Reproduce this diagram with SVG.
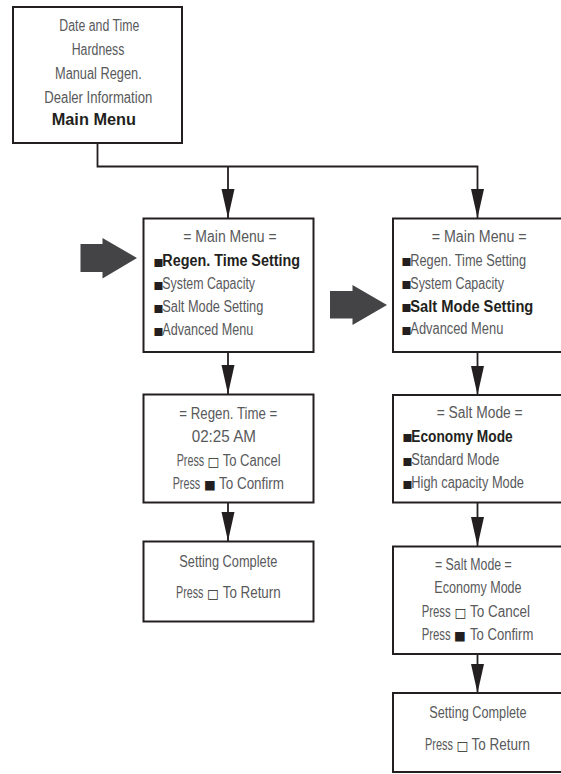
<svg xmlns="http://www.w3.org/2000/svg" width="561" height="774" viewBox="0 0 561 774">
<defs>
<style>
.box{fill:#fff;stroke:#231f20;stroke-width:2}
.ln{fill:none;stroke:#231f20;stroke-width:1.8}
.t{font-family:"Liberation Sans","DejaVu Sans",sans-serif;font-size:16px;fill:#58595b}
.b{font-weight:bold;fill:#231f20}
.bul{font-family:"DejaVu Sans",sans-serif;font-size:10.5px;fill:#231f20}
.k{font-family:"DejaVu Sans",sans-serif;font-size:12.5px;fill:#231f20}
.big{fill:#444446}
</style>
<marker id="ah" markerUnits="userSpaceOnUse" markerWidth="30" markerHeight="14" viewBox="0 -7 30 14" refX="29" refY="0" orient="auto">
<path d="M0,-6.5 L29,0 L0,6.5 z" fill="#231f20"/>
</marker>
</defs>
<rect width="561" height="774" fill="#fff"/>

<g id="connectors">
<path class="ln" d="M97.5,143 V166.5 H477.5 V218" marker-end="url(#ah)"/>
<path class="ln" d="M228,166.5 V218" marker-end="url(#ah)"/>
<path class="ln" d="M228,352 V394" marker-end="url(#ah)"/>
<path class="ln" d="M228,503 V541" marker-end="url(#ah)"/>
<path class="ln" d="M477.5,352 V395" marker-end="url(#ah)"/>
<path class="ln" d="M477.5,503 V546" marker-end="url(#ah)"/>
<path class="ln" d="M477.5,654 V693" marker-end="url(#ah)"/>
</g>

<g id="pointer-left">
<polygon class="big" points="80.5,244 102.5,244 102.5,238 137,258 102.5,278.5 102.5,272 80.5,272"/>
</g>
<g id="pointer-right">
<polygon class="big" points="330,291 352.5,291 352.5,285 387,305 352.5,325 352.5,318.5 330,318.5"/>
</g>

<g id="home">
<rect class="box" x="13" y="7" width="169" height="136"/>
<text class="t" x="59.3" y="31" textLength="80" lengthAdjust="spacingAndGlyphs">Date and Time</text>
<text class="t" x="71.7" y="55" textLength="52.7" lengthAdjust="spacingAndGlyphs">Hardness</text>
<text class="t" x="55" y="79" textLength="86.7" lengthAdjust="spacingAndGlyphs">Manual Regen.</text>
<text class="t" x="44.3" y="102.5" textLength="108" lengthAdjust="spacingAndGlyphs">Dealer Information</text>
<text class="t b" x="51.7" y="125" textLength="84.3" lengthAdjust="spacingAndGlyphs">Main Menu</text>
</g>

<g id="main-menu-left">
<rect class="box" x="143.5" y="218.5" width="170" height="133.5"/>
<text class="t" x="183.3" y="242" textLength="93.3" lengthAdjust="spacingAndGlyphs">= Main Menu =</text>
<text class="bul" x="153.5" y="265.5">■</text>
<text class="t b" x="162.3" y="266" textLength="137.7" lengthAdjust="spacingAndGlyphs">Regen. Time Setting</text>
<text class="bul" x="153.5" y="288.5">■</text>
<text class="t" x="162.3" y="289" textLength="92.7" lengthAdjust="spacingAndGlyphs">System Capacity</text>
<text class="bul" x="153.5" y="311.5">■</text>
<text class="t" x="162.3" y="312" textLength="101" lengthAdjust="spacingAndGlyphs">Salt Mode Setting</text>
<text class="bul" x="153.5" y="334.5">■</text>
<text class="t" x="162.3" y="335" textLength="91" lengthAdjust="spacingAndGlyphs">Advanced Menu</text>
</g>

<g id="regen-time">
<rect class="box" x="143.5" y="394.5" width="170" height="108"/>
<text class="t" x="179.3" y="419" textLength="98" lengthAdjust="spacingAndGlyphs">= Regen. Time =</text>
<text class="t" x="191.7" y="442" textLength="64.3" lengthAdjust="spacingAndGlyphs">02:25 AM</text>
<text class="t" x="176.7" y="466" textLength="27.5" lengthAdjust="spacingAndGlyphs">Press</text>
<text class="k" x="207.5" y="466">□</text>
<text class="t" x="222.7" y="466" textLength="58" lengthAdjust="spacingAndGlyphs">To Cancel</text>
<text class="t" x="172.7" y="489" textLength="27.5" lengthAdjust="spacingAndGlyphs">Press</text>
<text class="k" x="204" y="489">■</text>
<text class="t" x="219" y="489" textLength="65" lengthAdjust="spacingAndGlyphs">To Confirm</text>
</g>

<g id="complete-left">
<rect class="box" x="143.5" y="541.5" width="170" height="80"/>
<text class="t" x="179.3" y="567" textLength="98" lengthAdjust="spacingAndGlyphs">Setting Complete</text>
<text class="t" x="176" y="598" textLength="27.5" lengthAdjust="spacingAndGlyphs">Press</text>
<text class="k" x="207" y="598">□</text>
<text class="t" x="222.7" y="598" textLength="58" lengthAdjust="spacingAndGlyphs">To Return</text>
</g>

<g id="main-menu-right">
<rect class="box" x="393" y="218.5" width="180" height="133.5"/>
<text class="t" x="431.7" y="242" textLength="95" lengthAdjust="spacingAndGlyphs">= Main Menu =</text>
<text class="bul" x="401.5" y="265">■</text>
<text class="t" x="410.3" y="265.5" textLength="115.7" lengthAdjust="spacingAndGlyphs">Regen. Time Setting</text>
<text class="bul" x="401.5" y="288">■</text>
<text class="t" x="410.3" y="288.5" textLength="93.7" lengthAdjust="spacingAndGlyphs">System Capacity</text>
<text class="bul" x="401.5" y="311">■</text>
<text class="t b" x="410.3" y="311.5" textLength="123" lengthAdjust="spacingAndGlyphs">Salt Mode Setting</text>
<text class="bul" x="401.5" y="333.5">■</text>
<text class="t" x="410.3" y="334" textLength="93" lengthAdjust="spacingAndGlyphs">Advanced Menu</text>
</g>

<g id="salt-mode">
<rect class="box" x="393" y="395" width="180" height="107.5"/>
<text class="t" x="436.7" y="418" textLength="86" lengthAdjust="spacingAndGlyphs">= Salt Mode =</text>
<text class="bul" x="402.5" y="441">■</text>
<text class="t b" x="411.3" y="441.5" textLength="101.4" lengthAdjust="spacingAndGlyphs">Economy Mode</text>
<text class="bul" x="402.5" y="464.5">■</text>
<text class="t" x="411.3" y="465" textLength="88" lengthAdjust="spacingAndGlyphs">Standard Mode</text>
<text class="bul" x="402.5" y="487.5">■</text>
<text class="t" x="411.3" y="488" textLength="112.7" lengthAdjust="spacingAndGlyphs">High capacity Mode</text>
</g>

<g id="salt-confirm">
<rect class="box" x="393" y="546.5" width="180" height="107.5"/>
<text class="t" x="435" y="570" textLength="76.7" lengthAdjust="spacingAndGlyphs">= Salt Mode =</text>
<text class="t" x="434.3" y="593" textLength="87.3" lengthAdjust="spacingAndGlyphs">Economy Mode</text>
<text class="t" x="421.7" y="617" textLength="29" lengthAdjust="spacingAndGlyphs">Press</text>
<text class="k" x="454.5" y="617">□</text>
<text class="t" x="470" y="617" textLength="60" lengthAdjust="spacingAndGlyphs">To Cancel</text>
<text class="t" x="421.7" y="640" textLength="29" lengthAdjust="spacingAndGlyphs">Press</text>
<text class="k" x="454" y="640">■</text>
<text class="t" x="470" y="640" textLength="63.3" lengthAdjust="spacingAndGlyphs">To Confirm</text>
</g>

<g id="complete-right">
<rect class="box" x="393" y="693" width="180" height="79"/>
<text class="t" x="429.3" y="718" textLength="97.3" lengthAdjust="spacingAndGlyphs">Setting Complete</text>
<text class="t" x="425" y="750" textLength="28" lengthAdjust="spacingAndGlyphs">Press</text>
<text class="k" x="456.5" y="750">□</text>
<text class="t" x="471.5" y="750" textLength="58.5" lengthAdjust="spacingAndGlyphs">To Return</text>
</g>
</svg>
